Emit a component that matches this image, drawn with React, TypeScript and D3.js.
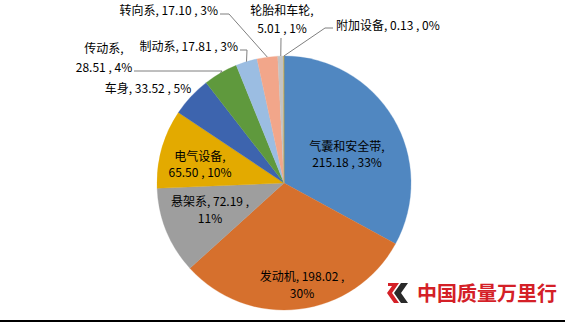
import React from "react";
import * as d3 from "d3";

const categories = ["气囊和安全带", "发动机", "悬架系", "电气设备", "车身", "传动系", "制动系", "转向系", "轮胎和车轮", "附加设备"];
const values = [215.18, 198.02, 72.19, 65.5, 33.52, 28.51, 17.81, 17.1, 5.01, 0.13];
const colors = ["#5087C1", "#D6702D", "#9E9E9E", "#E3AA00", "#3D64AE", "#5F993D", "#9BBDE2", "#F2A68A", "#C3C3C3", "#C99A00"];

// label layout (pixel positions of label text, and leader elbows)
type Layout = { x: number; y: number; anchor: "start" | "middle" | "end"; split: "name" | "value" | "none"; gap?: number; leader?: [number, number][] };
const labelLayout: Layout[] = [
  { x: 347, y: 151, anchor: "middle", split: "name", gap: 16 },
  { x: 302, y: 281, anchor: "middle", split: "value", gap: 17 },
  { x: 210, y: 206, anchor: "middle", split: "value", gap: 17 },
  { x: 200, y: 161, anchor: "middle", split: "name", gap: 16 },
  { x: 148, y: 93, anchor: "middle", split: "none" },
  { x: 104, y: 53, anchor: "middle", split: "name", gap: 19, leader: [[222, 71], [134, 71]] },
  { x: 238, y: 51, anchor: "end", split: "none", leader: [[247, 50], [240, 50]] },
  { x: 218, y: 15, anchor: "end", split: "none", leader: [[229, 14], [220, 14]] },
  { x: 282, y: 15, anchor: "middle", split: "name", gap: 18, leader: [[281, 38]] },
  { x: 336, y: 30, anchor: "start", split: "none", leader: [[325, 28], [333, 28]] },
];

const W = 565;
const H = 322;
const cx = 284;
const cy = 183;
const R = 127;

export default function App() {
  const total = d3.sum(values);
  const pie = d3
    .pie<number>()
    .sort(null)
    .value((d) => d)
    .startAngle(0)
    .endAngle(2 * Math.PI);
  const arcs = pie(values);
  const arc = d3.arc<d3.PieArcDatum<number>>().innerRadius(0).outerRadius(R);

  const font = "'Noto Sans CJK SC', 'Noto Sans', sans-serif";

  return (
    <svg width={W} height={H} style={{ position: "absolute", left: 0, top: 0, background: "#fff" }}>
      <rect x={0} y={0} width={W} height={H} fill="#fff" />
      <g transform={`translate(${cx},${cy})`}>
        {arcs.map((a, i) => (
          <path key={i} d={arc(a) || ""} fill={colors[i]} stroke={colors[i]} strokeWidth={0.3} />
        ))}
      </g>
      {arcs.map((a, i) => {
        const L = labelLayout[i];
        const mid = (a.startAngle + a.endAngle) / 2;
        const ex = cx + R * Math.sin(mid);
        const ey = cy - R * Math.cos(mid);
        const pct = Math.round((values[i] / total) * 100);
        const v = values[i].toFixed(2);
        let lines: string[];
        if (L.split === "name") lines = [`${categories[i]},`, `${v} , ${pct}%`];
        else if (L.split === "value") lines = [`${categories[i]}, ${v} ,`, `${pct}%`];
        else lines = [`${categories[i]}, ${v} , ${pct}%`];
        return (
          <g key={i}>
            {L.leader && (
              <polyline
                points={[[ex, ey], ...L.leader].map((p) => p.join(",")).join(" ")}
                fill="none"
                stroke="#7F7F7F"
                strokeWidth={1}
              />
            )}
            <text fontFamily={font} fontSize={12} fill="#000" textAnchor={L.anchor}>
              {lines.map((t, j) => (
                <tspan key={j} x={L.x} y={L.y + j * (L.gap || 16)}>
                  {t}
                </tspan>
              ))}
            </text>
          </g>
        );
      })}
      {/* logo */}
      <g>
        <path d="M388,283 L399,283 L392,293 L399,303 L394,303 L387,293 L392,286 L388,286 Z" fill="#D42027" />
        <path d="M401,283 L408,283 L401,293 L408,303 L401,303 L394,293 Z" fill="#2A2A2A" />
        <text x={417} y={301} fontFamily={font} fontWeight="bold" fontSize={20} fill="#D42027">
          中国质量万里行
        </text>
      </g>
      <rect x={0} y={320} width={W} height={2} fill="#000" />
    </svg>
  );
}
